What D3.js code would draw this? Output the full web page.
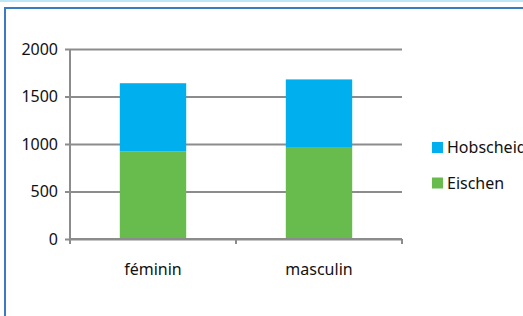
<!DOCTYPE html>
<html>
<head>
<meta charset="utf-8">
<script src="https://cdn.jsdelivr.net/npm/d3@7"></script>
<style>
	body { margin: 0; background: #fff; }
	svg { display: block; font-family: "Noto Sans", sans-serif; }
</style>
</head>
<body>
<div id="chart"></div>
<script>
// data
const categories = ['féminin', 'masculin'];
const seriesNames = ['Eischen', 'Hobscheid'];
const eischen = [920, 960];
const hobscheid = [720, 720];
const yTicks = [0, 500, 1000, 1500, 2000];
const colors = ['#68bc4e', '#00b0ee'];

const W = 523, H = 316;
const m = {left: 70, right: 121, top: 49, bottom: 77};

const svg = d3.select('#chart').append('svg')
	.attr('width', W)
	.attr('height', H);

// frame
svg.append('rect').attr('x', 0).attr('y', 0).attr('width', W).attr('height', 2).attr('fill', '#bde6f7');
svg.append('rect')
	.attr('x', 5).attr('y', 8)
	.attr('width', W + 10).attr('height', H)
	.attr('fill', 'none')
	.attr('stroke', '#3a7cc2')
	.attr('stroke-width', 2);

const plotW = W - m.left - m.right;
const plotH = H - m.top - m.bottom;

const plot = svg.append('g').attr('transform', 'translate(' + m.left + ',' + m.top + ')');

const x = d3.scaleBand().domain(categories).range([0, plotW]).paddingInner(0.6).paddingOuter(0.3);
const xb = d3.scaleBand().domain(categories).range([0, plotW]);
const y = d3.scaleLinear().domain([0, 2000]).range([plotH, 0]);

// gridlines + y axis
plot.append('g')
	.attr('class', 'y axis')
	.call(d3.axisLeft(y).tickValues(yTicks).tickSize(-(plotW + 5)).tickPadding(12).tickFormat(d3.format('d')))
	.call(g => g.select('.domain').remove())
	.call(g => g.selectAll('.tick line').attr('x1', -5).attr('x2', plotW).attr('stroke', '#8c8c8c').attr('stroke-width', 2))
	.call(g => g.selectAll('.tick text').attr('font-size', 16).attr('fill', '#111').attr('font-family', '"Noto Sans", sans-serif'));

plot.append('line')
	.attr('x1', 0).attr('x2', 0).attr('y1', 0).attr('y2', plotH)
	.attr('stroke', '#8c8c8c').attr('stroke-width', 2);

// stacked bars
const table = categories.map((c, i) => ({cat: c, Eischen: eischen[i], Hobscheid: hobscheid[i]}));
const stack = d3.stack().keys(seriesNames)(table);

plot.selectAll('.layer')
	.data(stack)
	.enter().append('g')
	.attr('class', 'layer')
	.attr('fill', (d, i) => colors[i])
	.selectAll('rect')
	.data(d => d)
	.enter().append('rect')
	.attr('x', d => x(d.data.cat))
	.attr('width', x.bandwidth())
	.attr('y', d => y(d[1]))
	.attr('height', d => y(d[0]) - y(d[1]));

// x axis
const xAxis = plot.append('g')
	.attr('transform', 'translate(0,' + plotH + ')');
xAxis.append('line')
	.attr('x1', 0).attr('x2', plotW).attr('stroke', '#8c8c8c').attr('stroke-width', 2);
xAxis.selectAll('.xtick')
	.data(categories.concat(['end']))
	.enter().append('line')
	.attr('x1', (d, i) => i * xb.bandwidth())
	.attr('x2', (d, i) => i * xb.bandwidth())
	.attr('y1', 0).attr('y2', 5)
	.attr('stroke', '#8c8c8c').attr('stroke-width', 2);
xAxis.selectAll('.xlabel')
	.data(categories)
	.enter().append('text')
	.attr('x', d => xb(d) + xb.bandwidth() / 2)
	.attr('y', 36)
	.attr('text-anchor', 'middle')
	.attr('font-size', 16)
	.attr('fill', '#111')
	.text(d => d);

// legend
const legendNames = seriesNames.slice().reverse();
const legend = svg.append('g').attr('transform', 'translate(432,142)');
const li = legend.selectAll('g')
	.data(legendNames)
	.enter().append('g')
	.attr('transform', (d, i) => 'translate(0,' + i * 35.5 + ')');
li.append('rect')
	.attr('width', 11).attr('height', 11)
	.attr('fill', d => colors[seriesNames.indexOf(d)]);
li.append('text')
	.attr('x', 15).attr('y', 11)
	.attr('font-size', 16)
	.attr('fill', '#111')
	.text(d => d);
</script>
</body>
</html>
